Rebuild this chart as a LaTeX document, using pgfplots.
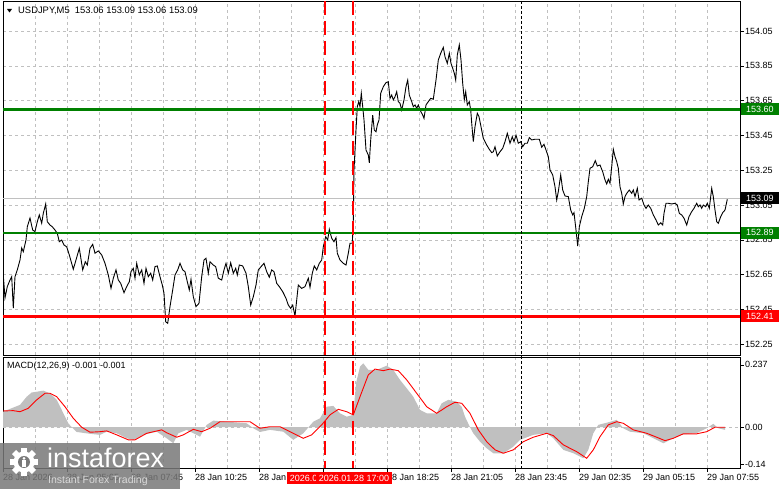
\documentclass[border=0pt]{standalone}
\usepackage{pgfplots}
\pgfplotsset{compat=1.18}
\usepackage{pgfplotstable}
\usepackage{fontspec}
\setmainfont{Liberation Sans}
\definecolor{mtgreen}{RGB}{0,128,0}
\definecolor{mtred}{RGB}{255,0,0}
\definecolor{gridc}{RGB}{192,192,192}
\definecolor{histc}{RGB}{192,192,192}
\definecolor{wmgray}{RGB}{120,120,120}

\pgfplotstableread{
x y
3 152.667
5 152.516
7.3 152.581
10 152.619
11.7 152.638
13.3 152.458
15 152.638
17.3 152.677
20 152.734
21.7 152.803
23.3 152.782
26 152.849
27.3 152.925
30 152.975
32.7 152.906
35 152.897
37.3 152.954
39.3 152.993
41.7 152.945
43.3 153.002
45.7 153.056
47.3 152.954
50 152.935
52.3 152.925
55 152.906
57.3 152.887
59.3 152.839
61.7 152.849
64 152.820
66.7 152.810
69.3 152.763
73.3 152.681
76 152.734
79.3 152.801
82.7 152.677
85.3 152.724
87.3 152.705
90 152.801
92.7 152.824
95 152.773
98.3 152.786
101.7 152.763
105 152.715
108.3 152.648
111 152.571
113.3 152.629
116 152.677
118.3 152.619
120.7 152.600
124 152.546
126.7 152.581
129.3 152.609
131 152.667
133.3 152.686
135 152.629
136.7 152.715
139.3 152.648
141.7 152.677
144 152.600
146 152.686
148.3 152.638
150.7 152.658
152.7 152.619
155 152.696
157.3 152.700
160 152.638
162.3 152.590
164 152.543
165.7 152.379
167.7 152.370
170 152.466
172.7 152.562
175 152.648
177.7 152.677
180 152.715
182.7 152.677
185 152.667
187.3 152.609
189.3 152.562
191 152.623
193.3 152.523
196 152.466
199 152.485
201.7 152.638
204 152.734
206 152.744
208.3 152.658
210 152.724
213.3 152.705
215.7 152.696
218.3 152.629
221.7 152.619
224 152.677
226 152.715
228.3 152.658
230.7 152.718
233.3 152.658
235.7 152.686
237.3 152.648
239.3 152.705
242.7 152.700
246 152.658
248.3 152.581
250.7 152.475
253.3 152.523
256 152.590
258.3 152.677
261.7 152.700
264 152.715
266.7 152.667
269.3 152.635
271.7 152.677
274 152.667
276.7 152.600
279.3 152.581
282.7 152.552
286 152.514
288.3 152.475
290.7 152.456
292.7 152.475
295 152.412
296.7 152.504
298.3 152.590
301.7 152.571
305 152.581
308.3 152.629
310 152.577
312.3 152.658
314.3 152.700
316.7 152.677
319.3 152.715
321.7 152.734
323.3 152.810
325.7 152.868
327.7 152.849
329.3 152.910
331.7 152.859
334 152.839
336 152.862
337.3 152.773
340 152.734
343.3 152.715
346 152.705
348.3 152.773
350 152.830
352.3 152.830
353.3 152.964
354 153.251
356 153.481
357.3 153.615
358.7 153.644
360 153.615
361.3 153.692
362.7 153.615
364 153.539
366 153.366
368.3 153.337
369.3 153.293
370.7 153.424
372.7 153.567
374.3 153.481
376 153.471
377.3 153.510
379 153.539
380.7 153.692
383.3 153.730
386 153.753
388.3 153.759
390 153.663
391.7 153.682
393.3 153.654
395 153.672
396.7 153.701
398.3 153.644
400 153.635
401.7 153.596
404 153.654
406 153.730
407.7 153.768
409.3 153.682
411.7 153.644
413.3 153.615
415 153.625
416.7 153.606
418.3 153.625
420 153.596
422.7 153.567
424 153.548
426 153.625
428.3 153.644
430.7 153.663
433.3 153.658
436 153.768
438.3 153.883
440.7 153.922
443.3 153.956
445 153.902
447.3 153.864
449.3 153.922
451 153.864
452.7 153.836
454.3 153.807
455.7 153.768
457.3 153.912
459.3 153.970
461 153.883
462.7 153.749
464.3 153.654
465.7 153.701
467.3 153.625
469.3 153.644
470.7 153.596
472 153.500
473.3 153.414
475 153.500
477.3 153.577
479 153.558
481 153.500
483.3 153.433
486.7 153.395
489.3 153.370
491.7 153.351
493.3 153.356
495 153.385
497.3 153.332
500 153.356
502.7 153.376
505 153.414
507.3 153.462
510 153.405
512.3 153.443
514 153.414
516 153.452
518.3 153.405
520.7 153.414
522.7 153.385
525 153.405
527.3 153.405
529.3 153.437
531.7 153.424
535 153.428
539.3 153.428
541.7 153.382
544 153.399
546 153.366
548.3 153.328
550 153.251
552.7 153.223
555 153.155
556.7 153.079
558.3 153.127
560.7 153.223
562.7 153.136
565 153.102
568.3 153.098
570.7 153.021
572.7 152.993
574 153.006
576 152.906
577.7 152.814
579.3 152.925
581.7 152.983
584.3 153.031
586.7 153.098
588.3 153.184
590 153.261
592.7 153.270
595.3 153.305
597.3 153.274
600 153.280
602.7 153.241
605 153.194
606.7 153.171
608.3 153.198
610 153.175
611.7 153.270
613.3 153.370
615 153.328
616.7 153.299
618.3 153.261
620 153.155
621.7 153.117
623.3 153.056
625 153.098
626.7 153.117
629.3 153.136
631.7 153.117
633.3 153.136
635 153.098
637.3 153.146
639 153.079
641.7 153.089
644 153.050
646 153.031
648.3 153.050
650.7 153.031
653.3 152.993
656 152.964
658.3 152.935
660.7 152.948
662.7 152.935
664 153.002
666 153.060
668.3 153.060
671.7 153.056
675 153.060
677.3 153.050
679.3 153.002
681.7 152.993
684 152.974
686.7 152.935
689 152.983
691.7 153.012
694 153.031
696.7 153.060
698.3 153.040
700 153.050
701.7 153.031
703.3 153.050
705.7 153.040
707.3 153.060
709.3 153.031
711.7 153.146
713.3 153.098
715 153.021
716.7 152.954
718.3 152.945
720.7 152.983
722.7 153.006
725 153.021
727.3 153.083
}\price

\pgfplotstableread{
x y
3 0.059
20 0.085
26.7 0.116
31.7 0.132
36.7 0.135
43.3 0.139
50 0.129
56.7 0.104
61.7 0.066
65 0.040
68.3 0.015
71.7 0
76.7 -0.018
90 -0.025
100 -0.029
106.7 -0.017
116.7 -0.023
126.7 -0.042
133.3 -0.048
143.3 -0.029
156.7 -0.017
166.7 -0.042
173.3 -0.061
178.3 -0.023
186.7 -0.010
196.7 -0.029
200 -0.036
206.7 0.009
213.3 0.025
226.7 0.021
246.7 0.015
253.3 -0.004
260 -0.018
270 -0.010
283.3 -0.017
293.3 -0.048
303.3 -0.023
313.3 0.021
320 0.034
326.7 0.078
333.3 0.081
340 0.053
346.7 0.040
353.3 0.047
356 0.167
360 0.230
363.3 0.243
368.3 0.218
376.7 0.218
386.7 0.234
393.3 0.218
400 0.180
406.7 0.148
413.3 0.116
420 0.066
426.7 0.053
436.7 0.053
441.7 0.091
448.3 0.104
456.7 0.097
461.7 0.078
465 0.040
470 0
473.3 -0.023
480 -0.055
486.7 -0.080
493.3 -0.099
503.3 -0.099
513.3 -0.074
520 -0.048
533.3 -0.029
546.7 -0.023
553.3 -0.042
563.3 -0.086
573.3 -0.099
583.3 -0.118
588.3 -0.086
593.3 -0.023
598.3 0.009
606.7 0.017
616.7 0.028
623.3 -0.004
630 -0.017
643.3 -0.023
656.7 -0.048
663.3 -0.061
673.3 -0.042
683.3 -0.027
696.7 -0.022
706.7 -0.004
713.3 0.013
718.3 -0.004
725 -0.010
}\hist

\pgfplotstableread{
x y
3.3 0.062
13.3 0.063
20 0.059
28.3 0.072
36.7 0.104
45 0.129
50 0.129
56.7 0.116
65 0.078
73.3 0.034
81.7 0
90 -0.019
100 -0.017
106.7 -0.014
116.7 -0.029
128.3 -0.048
135 -0.048
146.7 -0.023
161.7 -0.010
166.7 -0.021
176.7 -0.038
183.3 -0.029
193.3 -0.008
201.7 -0.017
210 -0.004
220 0.021
233.3 0.021
250 0.021
260 -0.004
270 0.002
280 0.002
290 -0.017
303.3 -0.042
311.7 -0.029
321.7 0.009
330 0.047
338.3 0.068
346.7 0.059
353.3 0.047
360 0.116
368.3 0.199
375 0.221
383.3 0.215
390 0.221
398.3 0.215
406.7 0.180
416.7 0.129
426.7 0.078
436.7 0.053
446.7 0.078
455 0.095
461.7 0.091
470 0.053
478.3 -0.010
486.7 -0.055
495 -0.086
503.3 -0.099
513.3 -0.086
523.3 -0.055
533.3 -0.038
546.7 -0.023
553.3 -0.032
563.3 -0.067
576.7 -0.093
586.7 -0.118
593.3 -0.086
600 -0.036
608.3 0.009
616.7 0.021
623.3 0.015
633.3 -0.010
646.7 -0.023
656.7 -0.038
665 -0.051
673.3 -0.042
683.3 -0.025
696.7 -0.025
706.7 -0.017
715 0
725 0
}\signal

\tikzset{lvl/.style={text=white, anchor=west, inner xsep=5pt, inner ysep=0pt,
   minimum height=12pt, font=\fontsize{9}{10}\selectfont}}

\begin{document}
\begin{tikzpicture}[x=1pt,y=1pt]
\useasboundingbox (0,0) rectangle (781,489);
\pgfplotsset{
 mtstyle/.style={scale only axis, width=737pt, xmin=3, xmax=740,
  anchor=south west,
  axis line style={black, line width=0.8pt},
  tick align=outside, major tick length=4pt, minor tick length=0pt,
  ytick pos=right, yticklabel pos=right,
  xtick={3,67,...,707}, minor xtick={35,99,...,675},
  xmajorgrids, xminorgrids,
  major grid style={gridc, dash pattern=on 3pt off 3pt, line width=0.6pt},
  minor grid style={gridc, dash pattern=on 3pt off 3pt, line width=0.6pt},
  tick style={black, line width=0.6pt},
  tick label style={font=\fontsize{9}{10}\selectfont, inner sep=1pt},
  yticklabel style={anchor=west},
  clip mode=individual,
 }
}

% ---------- main price panel ----------
\begin{axis}[mtstyle, at={(3pt,134pt)}, height=354pt,
  ymin=152.188, ymax=154.2225,
  ytick={152.25,152.45,152.65,152.85,153.05,153.25,153.45,153.65,153.85,154.05},
  yticklabels={152.25,152.45,152.65,152.85,153.05,153.25,153.45,153.65,153.85,154.05},
  ymajorgrids, xticklabels={}, xtick style={draw=none}]
  \addplot[gridc, line width=0.8pt, forget plot] coordinates {(3,153.09) (740,153.09)};
  \addplot[black, line width=0.9pt] table[x=x,y=y] {\price};
  \addplot[mtgreen, line width=3pt] coordinates {(3,153.60) (740,153.60)};
  \addplot[mtgreen, line width=2pt] coordinates {(3,152.89) (740,152.89)};
  \addplot[mtred, line width=2.5pt] coordinates {(3,152.41) (740,152.41)};
  \node[lvl, fill=mtgreen] at (axis cs:741,153.60) {153.60};
  \node[lvl, fill=mtgreen] at (axis cs:741,152.89) {152.89};
  \node[lvl, fill=mtred] at (axis cs:741,152.41) {152.41};
  \node[lvl, fill=black] at (axis cs:741,153.09) {153.09};
\end{axis}

% ---------- MACD panel ----------
\begin{axis}[mtstyle, at={(3pt,21pt)}, height=111pt,
  ymin=-0.155, ymax=0.267,
  ytick={-0.14,0,0.237}, yticklabels={-0.14,0.00,0.237},
  xtick pos=bottom,
  xticklabels={28 Jan 2026,28 Jan 05:05,28 Jan 07:45,28 Jan 10:25,28 Jan 13:05,28 Jan 15:45,28 Jan 18:25,28 Jan 21:05,28 Jan 23:45,29 Jan 02:35,29 Jan 05:15,29 Jan 07:55},
  xticklabel style={anchor=north west, xshift=-1pt, yshift=-1pt}]
  \draw[gridc, dash pattern=on 3pt off 3pt, line width=0.6pt] (axis cs:3,0) -- (axis cs:740,0);
  \addplot[fill=histc, draw=none] table[x=x,y=y] {\hist} \closedcycle;
  \addplot[mtred, line width=0.9pt] table[x=x,y=y] {\signal};
\end{axis}

% vertical lines
\draw[draw=mtred, line width=1.2pt, dash pattern=on 14pt off 6pt] (325,488) -- (325,21);
\draw[draw=mtred, line width=1.2pt, dash pattern=on 14pt off 6pt] (353,488) -- (353,21);
\draw[draw=black, line width=0.9pt, dash pattern=on 3pt off 2pt] (521,488) -- (521,21);

% time labels of vertical lines
\node[fill=mtred, text=white, inner xsep=3pt, inner ysep=0pt, minimum height=11.5pt, font=\fontsize{9}{10}\selectfont] at (325,11) {2026.01.28 15:50};
\node[fill=mtred, text=white, inner xsep=3pt, inner ysep=0pt, minimum height=11.5pt, font=\fontsize{9}{10}\selectfont] at (354,11) {2026.01.28 17:00};

% titles
\fill[black] (7,480) -- (12,480) -- (9.5,476.5) -- cycle;
\node[anchor=west, inner sep=0pt, font=\fontsize{9.4}{10}\selectfont] at (18,478.5) {USDJPY,M5\ \ 153.06 153.09 153.06 153.09};
\node[anchor=west, inner sep=0pt, font=\fontsize{9}{10}\selectfont] at (7,123) {MACD(12,26,9) -0.001 -0.001};

% watermark
\fill[wmgray, fill opacity=0.85] (0,0) rectangle (180,46);
\begin{scope}[shift={(24,27)}]
  \foreach \a in {0,45,...,315} \fill[white, rotate=\a] (-3,8) rectangle (3,14);
  \fill[white] (0,0) circle (10.5);
  \fill[wmgray] (0,0) circle (6);
  \fill[white] (-1.6,-5) rectangle (1.6,1.5);
  \fill[white] (0,3.6) circle (1.5);
\end{scope}
\node[anchor=base west, inner sep=0pt, text=white, font=\fontsize{27}{30}\selectfont] at (47,21) {instaforex};
\node[anchor=base west, inner sep=0pt, text=white!85!black, font=\fontsize{10.5}{12}\selectfont] at (48,5) {Instant Forex Trading};
\end{tikzpicture}
\end{document}
